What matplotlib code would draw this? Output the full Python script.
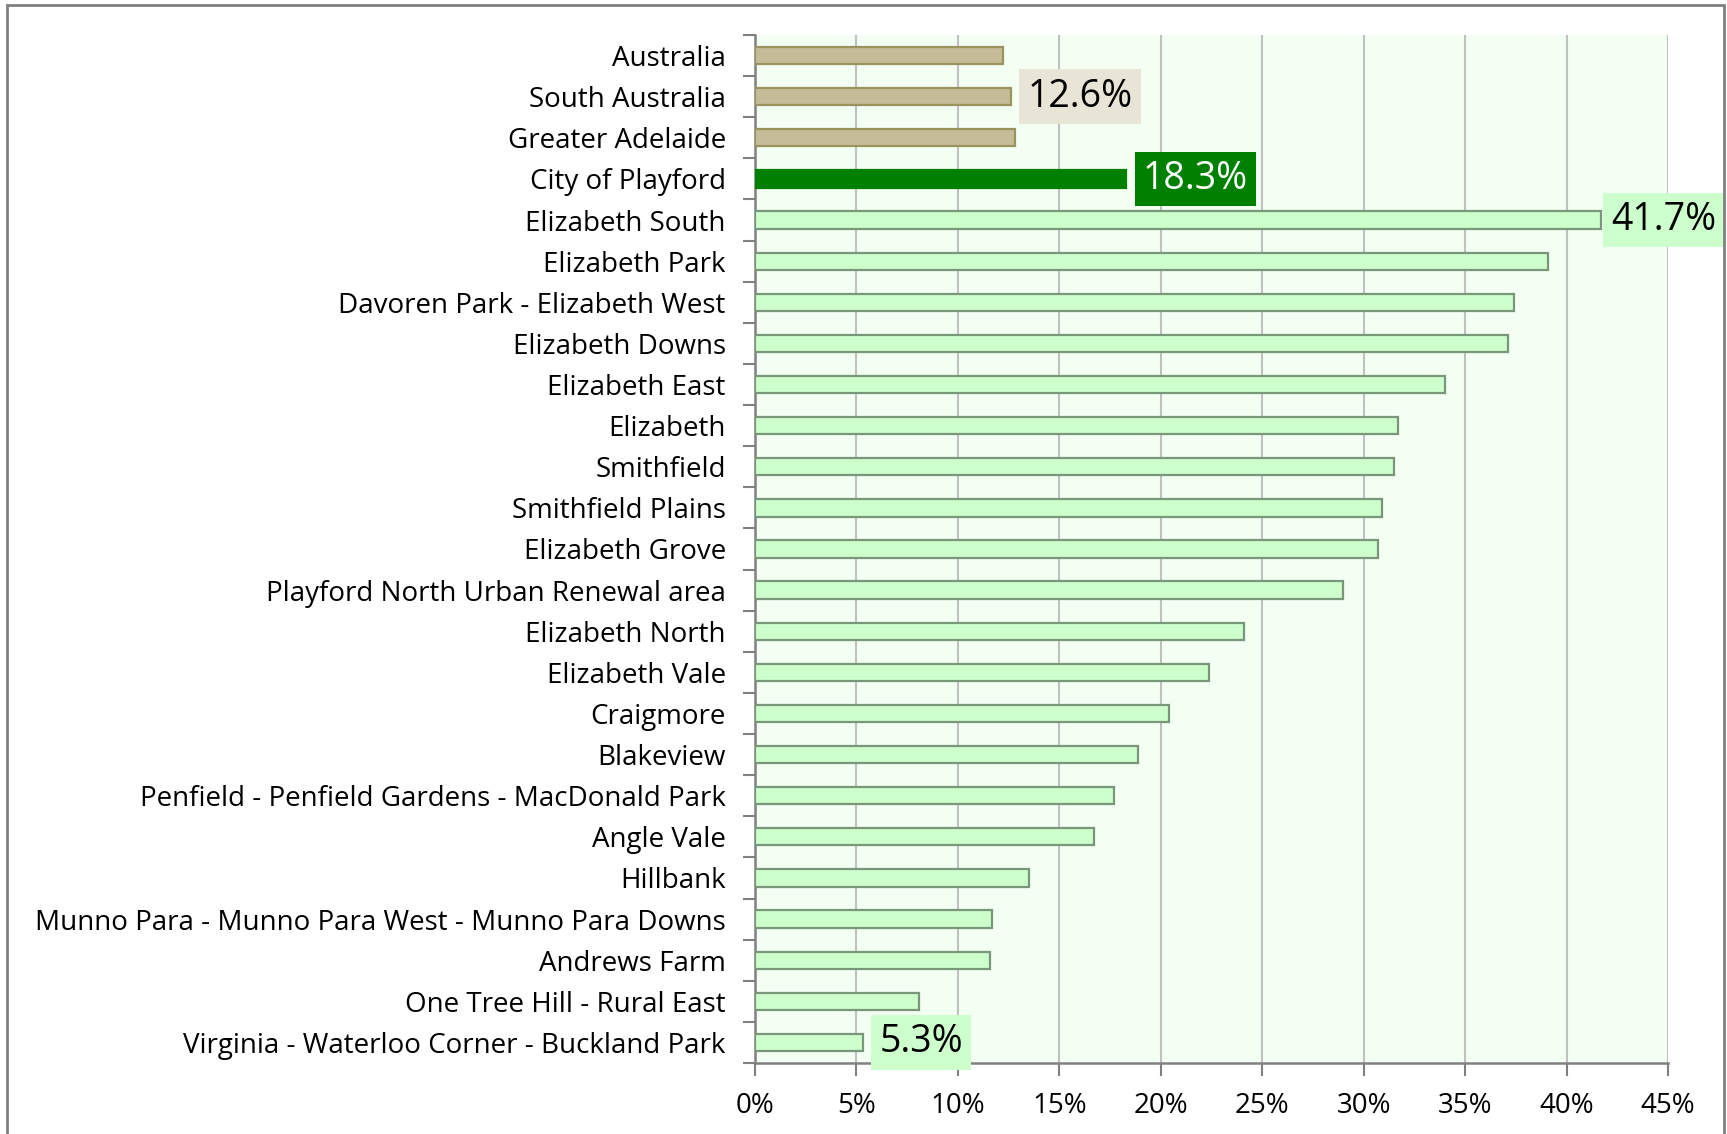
import matplotlib.pyplot as plt
from matplotlib.patches import Rectangle
from matplotlib.ticker import FixedLocator, PercentFormatter

plt.rcParams['font.family'] = ['Open Sans', 'Lato', 'DejaVu Sans']

# data, top to bottom as in the chart
areas = [
    'Australia', 'South Australia', 'Greater Adelaide', 'City of Playford',
    'Elizabeth South', 'Elizabeth Park', 'Davoren Park - Elizabeth West',
    'Elizabeth Downs', 'Elizabeth East', 'Elizabeth', 'Smithfield',
    'Smithfield Plains', 'Elizabeth Grove', 'Playford North Urban Renewal area',
    'Elizabeth North', 'Elizabeth Vale', 'Craigmore', 'Blakeview',
    'Penfield - Penfield Gardens - MacDonald Park', 'Angle Vale', 'Hillbank',
    'Munno Para - Munno Para West - Munno Para Downs', 'Andrews Farm',
    'One Tree Hill - Rural East', 'Virginia - Waterloo Corner - Buckland Park',
]
values = [12.2, 12.6, 12.8, 18.3, 41.7, 39.1, 37.4, 37.1, 34.0, 31.7, 31.5,
          30.9, 30.7, 29.0, 24.1, 22.4, 20.4, 18.9, 17.7, 16.7, 13.5, 11.7,
          11.6, 8.1, 5.3]
kind = ['bench'] * 3 + ['lga'] + ['suburb'] * 21
x_ticks = [0, 5, 10, 15, 20, 25, 30, 35, 40, 45]

# labelled bars: index -> (box colour, text colour, offset in points)
labelled = {1: ('#E8E4D6', 'black', 12), 3: ('#008000', 'white', 12),
            4: ('#CCFFCC', 'black', 7), 24: ('#CCFFCC', 'black', 12)}

face = {'bench': '#C4BD97', 'lga': '#008000', 'suburb': '#CCFFCC'}
edge = {'bench': '#9C9260', 'lga': '#008000', 'suburb': '#7A967A'}

fig = plt.figure(figsize=(17.27, 11.34), dpi=100)
ax = fig.add_axes([755 / 1727, 1 - 1063 / 1134, (1668 - 755) / 1727, (1063 - 35) / 1134])
ax.set_facecolor('#F3FFF3')

ypos = list(range(len(areas)))
for y, v, k in zip(ypos, values, kind):
    ax.barh(y, v, height=0.42, color=face[k], edgecolor=edge[k], linewidth=1.6, zorder=3)

ax.set_xlim(0, 45)
ax.set_ylim(len(areas) - 0.5, -0.5)

ax.set_yticks(ypos)
ax.set_yticklabels(areas, fontsize=20, va='center_baseline')
ax.yaxis.set_minor_locator(FixedLocator([i - 0.5 for i in range(len(areas) + 1)]))
ax.tick_params(axis='y', which='major', length=0, pad=21)
ax.tick_params(axis='y', which='minor', length=9, width=1.5, color='#808080', direction='out')

ax.set_xticks(x_ticks)
ax.xaxis.set_major_formatter(PercentFormatter(decimals=0))
ax.tick_params(axis='x', length=9, width=1.5, color='#808080', labelsize=20, pad=12)

ax.grid(axis='x', color='#C0C0C0', linewidth=1.5, zorder=0)
for s in ['top', 'right']:
    ax.spines[s].set_visible(False)
for s in ['left', 'bottom']:
    ax.spines[s].set_color('#808080')
    ax.spines[s].set_linewidth(1.8)

for i, (bg, fg, off) in labelled.items():
    ax.annotate(f'{values[i]:.1f}%', xy=(values[i], i), xytext=(off, 0),
                textcoords='offset points', ha='left', va='center',
                fontsize=27, color=fg, zorder=5,
                bbox=dict(boxstyle='square,pad=0.22', fc=bg, ec='none'))

# outer chart border
fig.add_artist(Rectangle((7 / 1727, -0.1), (1724 - 7) / 1727, 1.1 - 5 / 1134,
                         transform=fig.transFigure, fill=False,
                         edgecolor='#808080', linewidth=2))

fig.savefig('out.png', dpi=100, facecolor='white')
